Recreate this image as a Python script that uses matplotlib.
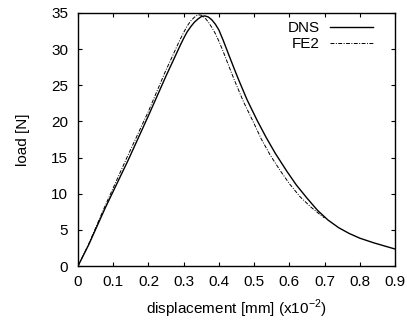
import matplotlib
matplotlib.use("Agg")
import matplotlib.pyplot as plt

plt.rcParams['font.family'] = ['Liberation Sans', 'DejaVu Sans']
plt.rcParams['mathtext.fontset'] = 'custom'
plt.rcParams['mathtext.rm'] = 'Liberation Sans'

# load-displacement curves (displacement in 1e-2 mm)
dns_x = [0, 0.03, 0.077, 0.143, 0.2, 0.25, 0.271, 0.29, 0.30, 0.31, 0.32, 0.33,
         0.34, 0.35, 0.36, 0.37, 0.38, 0.39, 0.40, 0.412, 0.427, 0.443, 0.457,
         0.48, 0.508, 0.534, 0.56, 0.593, 0.62, 0.65, 0.68, 0.71, 0.74, 0.77,
         0.80, 0.84, 0.9]
dns_y = [0, 2.9, 8.0, 14.7, 20.8, 26.3, 28.5, 30.5, 31.5, 32.4, 33.1, 33.7,
         34.15, 34.5, 34.6, 34.45, 34.05, 33.45, 32.65, 31.25, 29.35, 27.35, 25.65,
         23.0, 20.2, 17.8, 15.6, 13.1, 11.2, 9.4, 7.7, 6.35, 5.3, 4.5,
         3.85, 3.2, 2.35]

fe2_x = [0, 0.03, 0.075, 0.136, 0.2, 0.247, 0.265, 0.28, 0.29, 0.30, 0.31, 0.32,
         0.33, 0.34, 0.35, 0.36, 0.37, 0.38, 0.39, 0.40, 0.412, 0.427, 0.445,
         0.47, 0.498, 0.52, 0.545, 0.574, 0.60, 0.63, 0.66, 0.69, 0.70]
fe2_y = [0, 3.0, 8.1, 14.7, 21.4, 26.8, 28.7, 30.3, 31.35, 32.3, 33.2, 33.9,
         34.4, 34.75, 34.7, 34.35, 33.75, 33.0, 32.15, 31.1, 29.7, 27.8, 25.6,
         22.7, 19.9, 17.6, 15.4, 13.2, 11.4, 9.6, 8.2, 7.0, 6.65]

xticks = [0, 0.1, 0.2, 0.3, 0.4, 0.5, 0.6, 0.7, 0.8, 0.9]
yticks = [0, 5, 10, 15, 20, 25, 30, 35]
fs = 11

fig = plt.figure(figsize=(4.07, 3.24), dpi=100)
ax = fig.add_axes([78/407, 1-266/324, 317/407, 253/324])

ax.plot(dns_x, dns_y, color='black', lw=1.0, label='DNS')
ax.plot(fe2_x, fe2_y, color='black', lw=0.7, linestyle=(0, (4, 1.5, 1, 1.5)), label='FE2')

ax.set_xlim(0, 0.9)
ax.set_ylim(0, 35)
ax.set_xticks(xticks)
ax.set_xticklabels(['0'] + ['%.1f' % v for v in xticks[1:]])
ax.set_yticks(yticks)
ax.tick_params(direction='in', length=3, width=0.8, labelsize=fs,
               top=True, right=True)
ax.tick_params(axis='x', pad=6.5)
ax.tick_params(axis='y', pad=7)
for s in ax.spines.values():
    s.set_linewidth(1.0)

ax.set_xlabel('displacement [mm] (x10$^{\\mathregular{-2}}$)', fontsize=fs, labelpad=6)
ax.set_ylabel('load [N]', fontsize=fs, labelpad=15)

ax.legend(loc='upper right', bbox_to_anchor=(0.965, 1.01), frameon=False,
          markerfirst=False, fontsize=fs, handlelength=2.8, handletextpad=0.7,
          labelspacing=0.15, borderaxespad=0.3)

fig.savefig('out.png', dpi=100)
